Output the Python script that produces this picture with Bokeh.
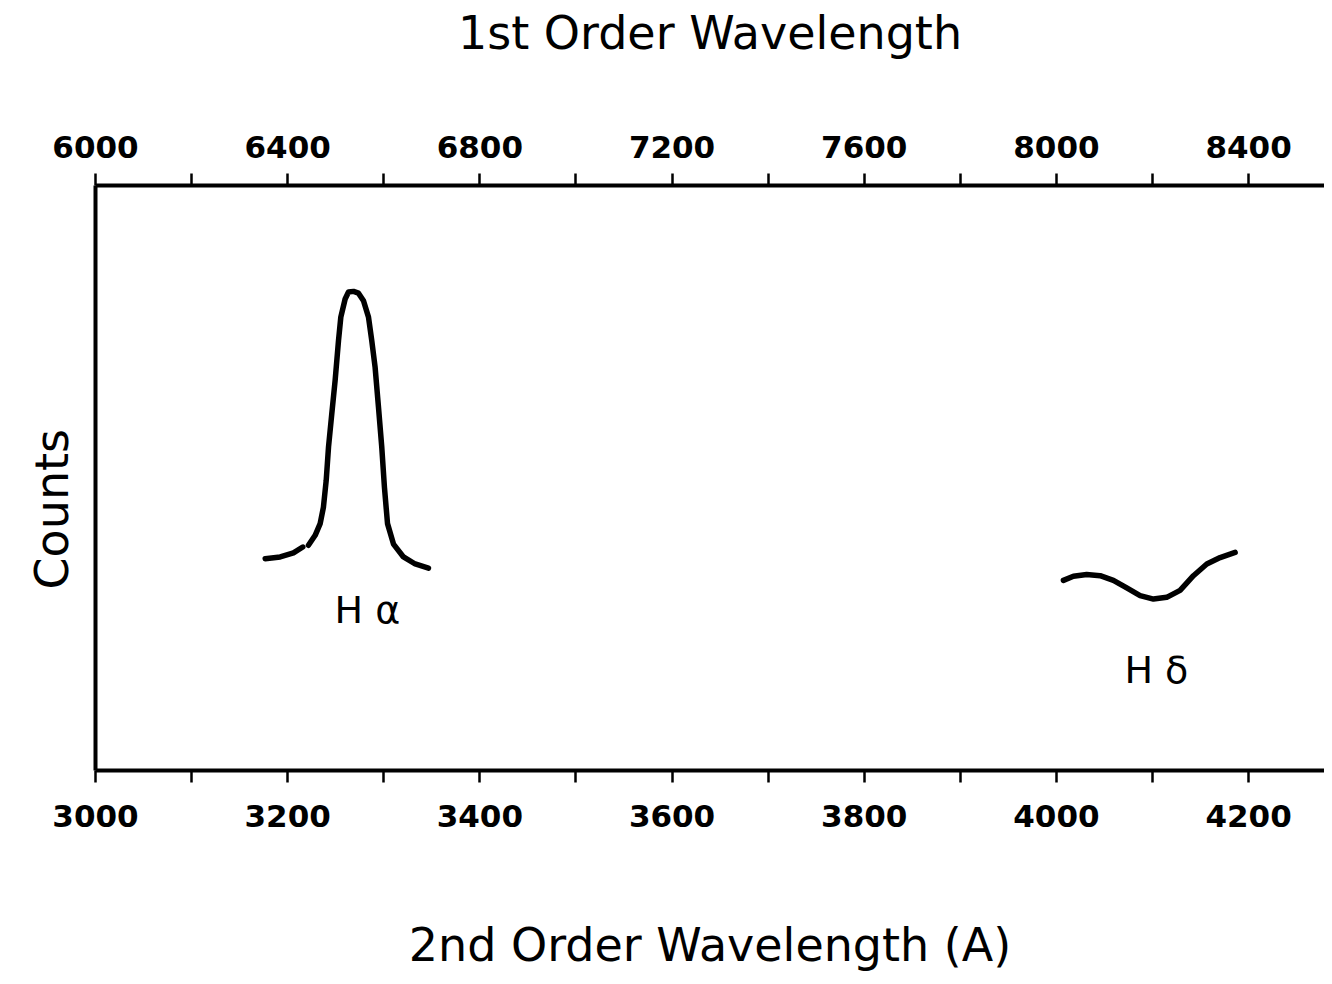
from bokeh.plotting import figure
from bokeh.models import Range1d, LinearAxis, FixedTicker, Title
from bokeh.core.properties import value
from bokeh.embed import file_html
from bokeh.resources import INLINE

# --- data ---
bottom_major = [3000, 3200, 3400, 3600, 3800, 4000, 4200]
bottom_minor = [3100, 3300, 3500, 3700, 3900, 4100]
top_major = [6000, 6400, 6800, 7200, 7600, 8000, 8400]
top_minor = [6200, 6600, 7000, 7400, 7800, 8200]

ha_left_x = [3176.6, 3192.2, 3206.0, 3215.7]
ha_left_y = [36.2, 36.5, 37.2, 38.2]
ha_x = [3221.6, 3228.6, 3233.8, 3237.2, 3240.1, 3242.5, 3245.9, 3249.4, 3252.9, 3255.3,
        3259.8, 3263.3, 3268.5, 3273.7, 3278.9, 3284.1, 3287.5, 3291.0, 3294.5, 3297.9,
        3300.7, 3303.9, 3310.1, 3320.5, 3332.7, 3346.5]
ha_y = [38.5, 40.2, 42.2, 45.0, 49.6, 55.3, 61.0, 66.7, 73.5, 77.5,
        80.6, 81.8, 81.9, 81.6, 80.3, 77.5, 73.5, 68.9, 62.1, 55.3,
        48.4, 42.2, 38.7, 36.5, 35.3, 34.6]

hd_x = [4007.3, 4017.7, 4031.5, 4045.5, 4059.3, 4073.2, 4087.1, 4101.0, 4114.8, 4128.7,
        4142.6, 4156.5, 4170.4, 4186.0]
hd_y = [32.5, 33.2, 33.5, 33.3, 32.5, 31.2, 29.9, 29.3, 29.6, 30.8,
        33.3, 35.3, 36.4, 37.3]

labels_text = ["H α", "H δ"]
labels_x = [3283, 4104]
labels_y = [27.4, 17.1]

p = figure(width=1324, height=976, output_backend="svg", toolbar_location=None,
           x_range=Range1d(3000, 4279), y_range=Range1d(0, 100),
           x_axis_location=None, y_axis_location=None,
           min_border_left=95, min_border_right=0, min_border_top=185, min_border_bottom=206)
p.extra_x_ranges = {"top": Range1d(6000, 8558)}
p.outline_line_color = None
p.grid.visible = False
p.background_fill_color = "white"
p.border_fill_color = "white"

TITLE_SIZE = "46px"

def style_axis(ax):
    ax.axis_line_width = 4
    ax.axis_line_color = "black"
    ax.major_tick_line_width = 2.5
    ax.minor_tick_line_width = 2.5
    ax.major_tick_out = 12
    ax.major_tick_in = 0
    ax.minor_tick_out = 12
    ax.minor_tick_in = 0
    ax.major_label_text_font = "DejaVu Sans"
    ax.major_label_text_font_style = "bold"
    ax.major_label_text_font_size = "31px"
    ax.major_label_text_color = "black"
    ax.axis_label_text_font = "DejaVu Sans"
    ax.axis_label_text_font_style = "normal"
    ax.axis_label_text_font_size = TITLE_SIZE
    ax.axis_label_text_color = "black"

bottom = LinearAxis(ticker=FixedTicker(ticks=bottom_major, minor_ticks=bottom_minor),
                    axis_label="2nd Order Wavelength (A)")
style_axis(bottom)
bottom.major_label_standoff = 22
bottom.axis_label_standoff = 88
p.add_layout(bottom, "below")

top = LinearAxis(x_range_name="top", ticker=FixedTicker(ticks=top_major, minor_ticks=top_minor),
                 axis_label="1st Order Wavelength")
style_axis(top)
top.major_label_standoff = 16
top.axis_label_standoff = 73
p.add_layout(top, "above")

left = LinearAxis(ticker=FixedTicker(ticks=[]))
style_axis(left)
left.major_tick_out = 0
left.minor_tick_out = 0
p.add_layout(left, "left")

counts = Title(text="Counts", align="left", offset=181, standoff=30, vertical_align="top",
               text_font="DejaVu Sans", text_font_size=TITLE_SIZE, text_line_height=0.7,
               text_font_style="normal", text_color="black")
p.add_layout(counts, "left")

p.line(ha_left_x, ha_left_y, line_width=5.5, line_color="black", line_cap="round", line_join="round")
p.line(ha_x, ha_y, line_width=5.5, line_color="black", line_cap="round", line_join="round")
p.line(hd_x, hd_y, line_width=5.5, line_color="black", line_cap="round", line_join="round")

p.text(labels_x, labels_y, text=labels_text, text_font=value("DejaVu Sans"),
       text_font_size="38px", text_align="center", text_baseline="middle", text_color="black")

open("out.html", "w").write(file_html(p, INLINE))
